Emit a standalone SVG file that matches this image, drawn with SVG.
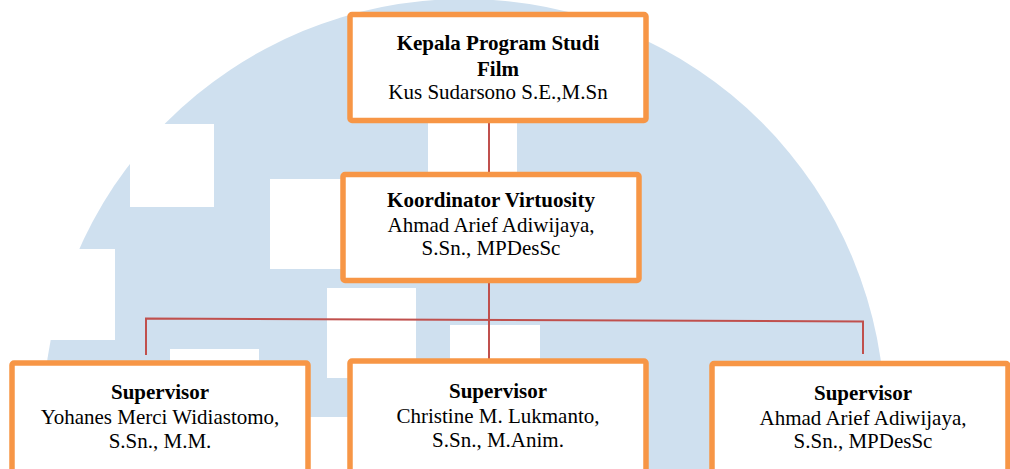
<svg xmlns="http://www.w3.org/2000/svg" width="1010" height="469" viewBox="0 0 1010 469">
<style>
.box{fill:#FFFFFF;stroke:#F79646;stroke-width:5.5}
.t{font-size:21px;fill:#000000;text-anchor:middle}
.b{font-weight:bold}
.cut{fill:#FFFFFF}
.con{fill:none;stroke:#C0504D;stroke-width:2}
</style>
<rect x="0" y="0" width="1010" height="469" fill="#FFFFFF"/>
<g id="watermark">
<circle cx="464" cy="420" r="421" fill="#CFE0EF"/>
<rect class="cut" x="130" y="124" width="84" height="83"/>
<rect class="cut" x="0" y="249" width="115" height="91"/>
<rect class="cut" x="270" y="179" width="75" height="90"/>
<rect class="cut" x="428" y="110" width="89" height="70"/>
<rect class="cut" x="327" y="288" width="89" height="90"/>
<rect class="cut" x="450" y="325" width="90" height="45"/>
<rect class="cut" x="170" y="349" width="89" height="20"/>
<rect class="cut" x="0" y="417" width="360" height="60"/>
</g>
<g id="connectors">
<line class="con" x1="489" y1="120" x2="489" y2="175" stroke-width="1.6"/>
<line class="con" x1="489" y1="281" x2="489" y2="360" stroke-width="1.6"/>
<polyline class="con" points="146,355 146,318.5 863,321.5 863,354"/>
</g>
<g font-family="'Liberation Serif', 'DejaVu Serif', serif">
<g id="kaprodi">
<rect class="box" x="350" y="14.5" width="296" height="106" rx="2"/>
<text class="t b" x="498" y="50">Kepala Program Studi</text>
<text class="t b" x="498" y="76">Film</text>
<text class="t" x="498" y="99">Kus Sudarsono S.E.,M.Sn</text>
</g>
<g id="koordinator">
<rect class="box" x="343" y="174.5" width="296" height="106" rx="2"/>
<text class="t b" x="491" y="207">Koordinator Virtuosity</text>
<text class="t" x="491" y="232">Ahmad Arief Adiwijaya,</text>
<text class="t" x="491" y="255">S.Sn., MPDesSc</text>
</g>
<g id="supervisor1">
<rect class="box" x="12" y="363" width="296" height="120" rx="2"/>
<text class="t b" x="160" y="399">Supervisor</text>
<text class="t" x="160" y="424">Yohanes Merci Widiastomo,</text>
<text class="t" x="160" y="448">S.Sn., M.M.</text>
</g>
<g id="supervisor2">
<rect class="box" x="350" y="361" width="296" height="120" rx="2"/>
<text class="t b" x="498" y="398">Supervisor</text>
<text class="t" x="498" y="423">Christine M. Lukmanto,</text>
<text class="t" x="498" y="447">S.Sn., M.Anim.</text>
</g>
<g id="supervisor3">
<rect class="box" x="712" y="363.5" width="296" height="120" rx="2"/>
<text class="t b" x="863" y="400">Supervisor</text>
<text class="t" x="863" y="425">Ahmad Arief Adiwijaya,</text>
<text class="t" x="863" y="448">S.Sn., MPDesSc</text>
</g>
</g>
</svg>
